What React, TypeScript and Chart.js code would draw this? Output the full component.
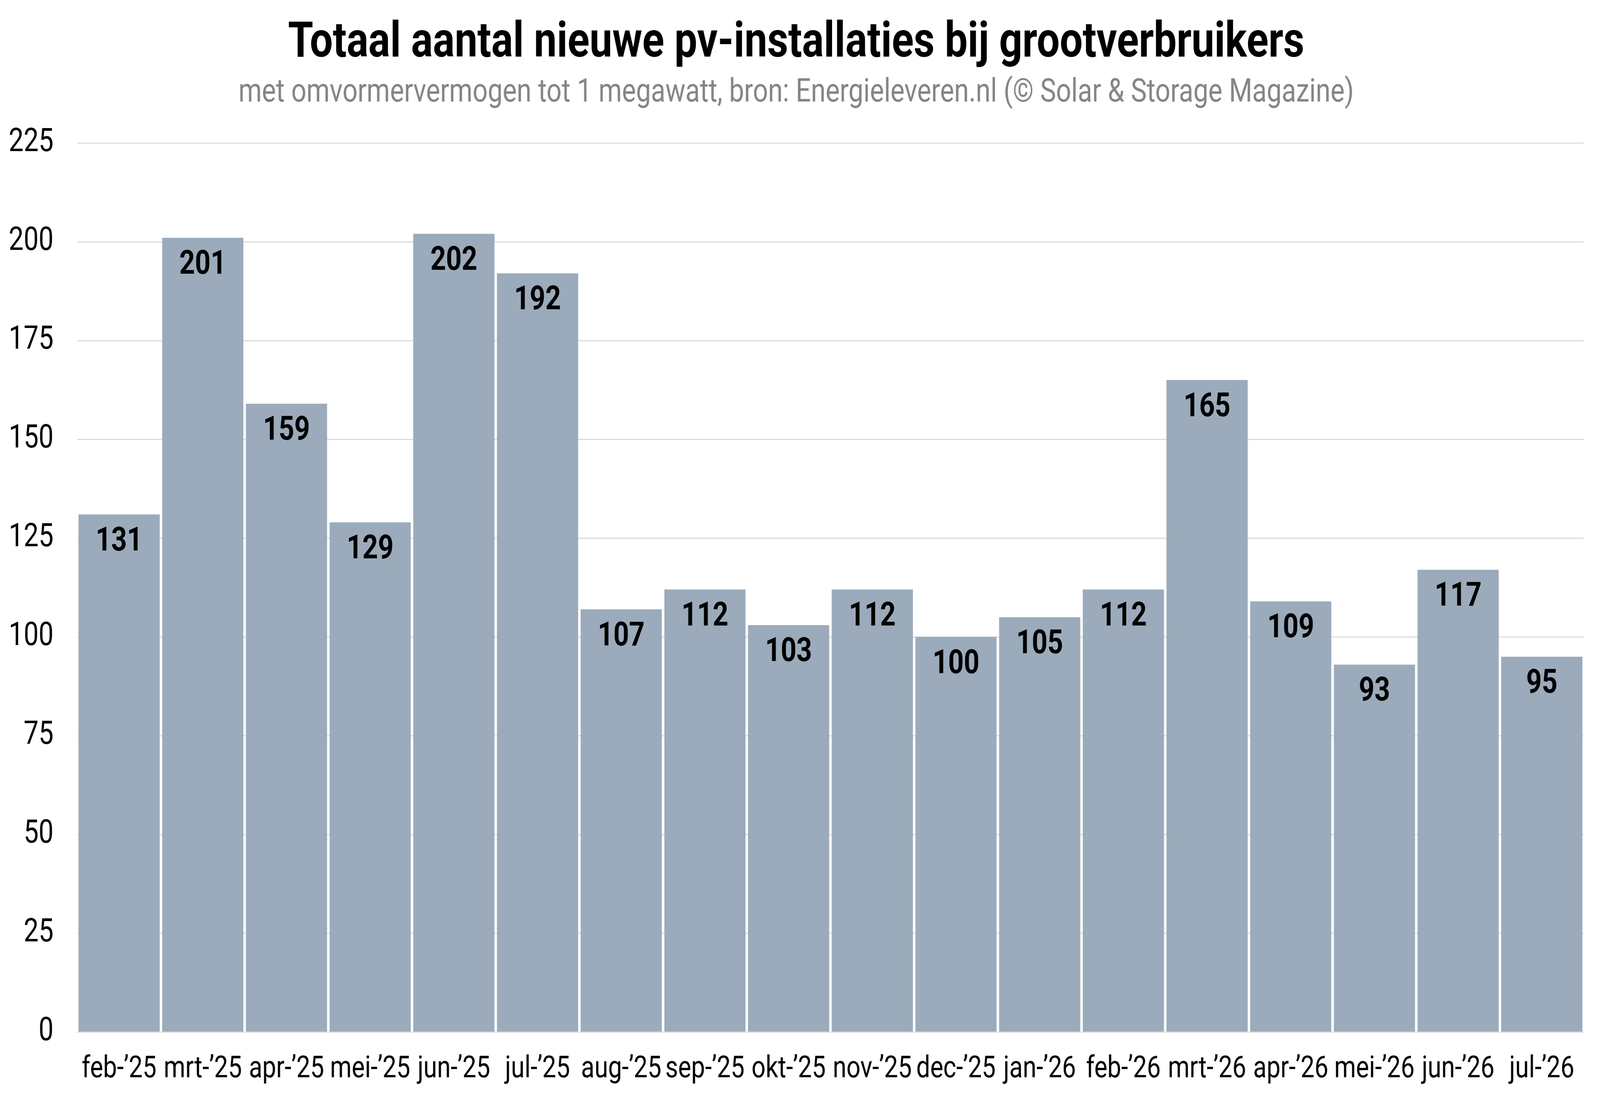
import React, { useEffect, useRef } from 'react';
import { Chart, registerables, Plugin } from 'chart.js';

Chart.register(...registerables);

const months = [
    'feb-’25', 'mrt-’25', 'apr-’25', 'mei-’25', 'jun-’25', 'jul-’25',
    'aug-’25', 'sep-’25', 'okt-’25', 'nov-’25', 'dec-’25', 'jan-’26',
    'feb-’26', 'mrt-’26', 'apr-’26', 'mei-’26', 'jun-’26', 'jul-’26',
];
const installations = [131, 201, 159, 129, 202, 192, 107, 112, 103, 112, 100, 105, 112, 165, 109, 93, 117, 95];

const TITLE = 'Totaal aantal nieuwe pv-installaties bij grootverbruikers';
const SUBTITLE = 'met omvormervermogen tot 1 megawatt, bron: Energieleveren.nl (© Solar & Storage Magazine)';

// drawing size of the chart; the browser window is narrower (4096), so the
// bitmap is drawn at full size and shown squeezed to the window width
const W = 4990;
const H = 2807;

const Y_PAD = 74;
const X_PAD = 42;

// values printed inside the top of each bar
const barLabels: Plugin<'bar'> = {
    id: 'barLabels',
    afterDatasetsDraw(chart) {
        const ctx = chart.ctx;
        const meta = chart.getDatasetMeta(0);
        const values = chart.data.datasets[0].data as number[];
        ctx.save();
        ctx.font = 'bold 85px Roboto';
        ctx.fillStyle = '#000';
        ctx.textAlign = 'center';
        ctx.textBaseline = 'middle';
        meta.data.forEach((bar, i) => {
            ctx.fillText(String(values[i]), bar.x, bar.y + 71);
        });
        ctx.restore();
    },
};

export default function App() {
    const canvasRef = useRef<HTMLCanvasElement>(null);

    useEffect(() => {
        document.body.style.margin = '0';
        if (!canvasRef.current) return;
        const chart = new Chart(canvasRef.current, {
            type: 'bar',
            data: {
                labels: months,
                datasets: [{
                    data: installations,
                    backgroundColor: '#9babbb',
                    borderWidth: 0,
                    barPercentage: 0.97,
                    categoryPercentage: 1,
                }],
            },
            options: {
                responsive: false,
                devicePixelRatio: 1,
                animation: false,
                layout: { padding: { left: 27, right: 51, top: 0, bottom: 21 } },
                plugins: {
                    legend: { display: false },
                    tooltip: { enabled: false },
                    title: {
                        display: true,
                        text: TITLE,
                        color: '#000',
                        font: { family: 'Roboto', size: 127, weight: 'bold' },
                        padding: { top: 37, bottom: 0 },
                    },
                    subtitle: {
                        display: true,
                        text: SUBTITLE,
                        color: '#858585',
                        font: { family: 'Roboto', size: 83 },
                        padding: { top: 0, bottom: 77 },
                    },
                },
                scales: {
                    x: {
                        grid: { display: false },
                        border: { display: false },
                        ticks: {
                            color: '#000',
                            padding: X_PAD,
                            maxRotation: 0,
                            autoSkip: false,
                            font: { family: 'Roboto', size: 77 },
                        },
                        // chart.js reserves the tick padding twice; keep it once
                        afterFit: (scale) => { scale.height -= X_PAD; },
                    },
                    y: {
                        min: 0,
                        max: 225,
                        grid: { color: '#dcdcdc', lineWidth: 3, drawTicks: false },
                        border: { display: false },
                        ticks: {
                            stepSize: 25,
                            color: '#000',
                            padding: Y_PAD,
                            font: { family: 'Roboto', size: 83 },
                        },
                        afterFit: (scale) => { scale.width -= Y_PAD; },
                    },
                },
            },
            plugins: [barLabels],
        });
        return () => chart.destroy();
    }, []);

    return (
        <div style={{ position: 'fixed', left: 0, top: 0, width: '100vw', height: '100vh', background: '#fff' }}>
            <canvas ref={canvasRef} width={W} height={H} style={{ width: '100%', height: '100%', display: 'block' }}></canvas>
        </div>
    );
}
